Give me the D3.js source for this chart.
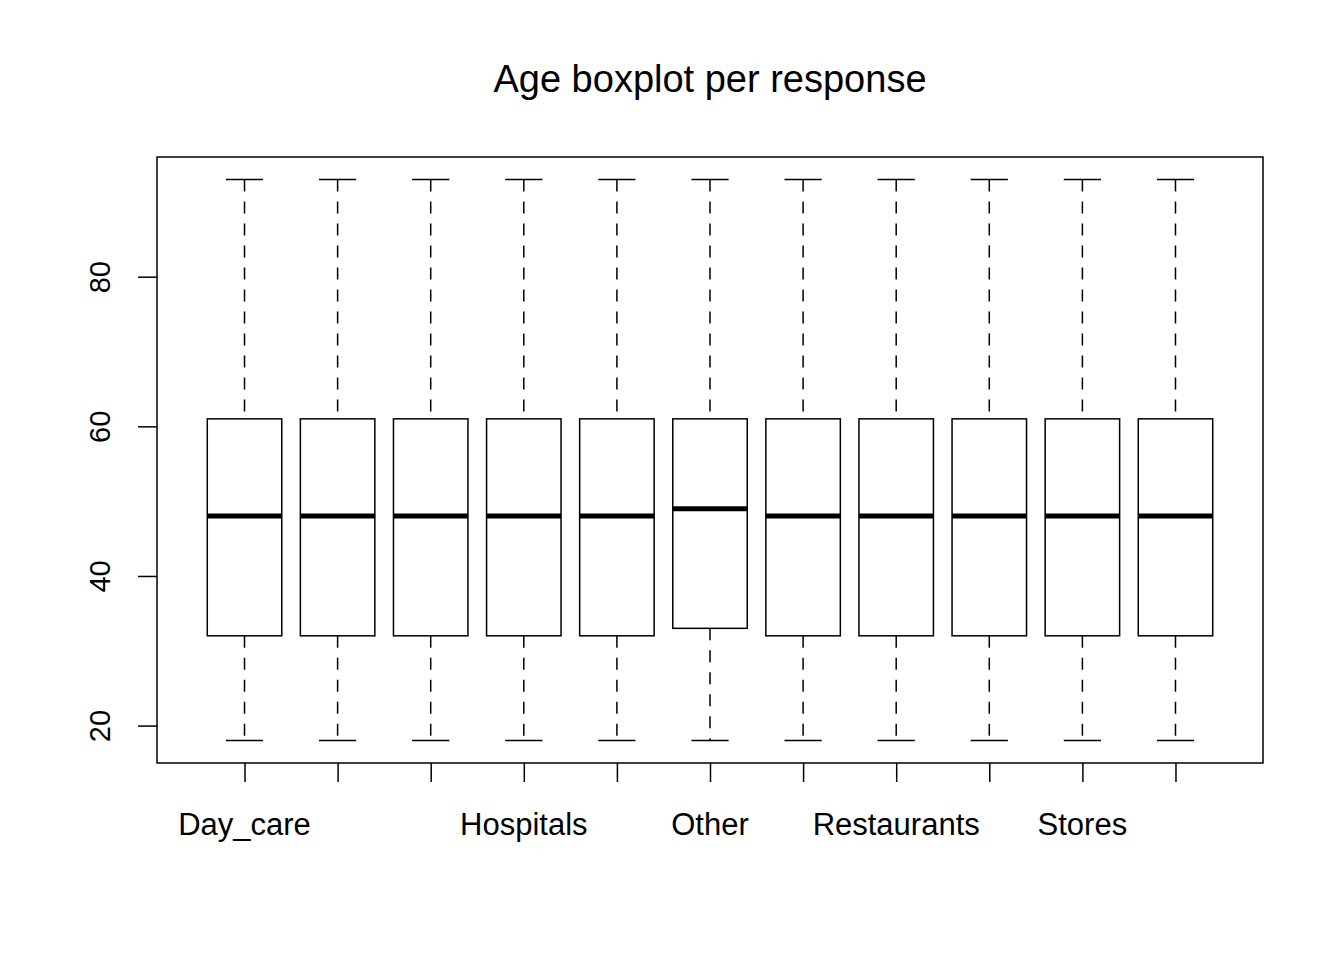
<!DOCTYPE html>
<html><head><meta charset="utf-8">
<script src="https://d3js.org/d3.v7.min.js"></script>
<style>body{margin:0;background:#fff}</style>
</head><body>
<script>
// one box per response
var labels = ["Day_care", "", "", "Hospitals", "", "Other", "", "Restaurants", "", "Stores", ""];
var lowWhisker = [18, 18, 18, 18, 18, 18, 18, 18, 18, 18, 18];
var q1 = [32, 32, 32, 32, 32, 33, 32, 32, 32, 32, 32];
var median = [48, 48, 48, 48, 48, 49, 48, 48, 48, 48, 48];
var q3 = [61, 61, 61, 61, 61, 61, 61, 61, 61, 61, 61];
var highWhisker = [93, 93, 93, 93, 93, 93, 93, 93, 93, 93, 93];
var yTicks = [20, 40, 60, 80];

var W = 1344, H = 960;
var box = {left: 157, right: 1263, top: 157, bottom: 763};
var n = labels.length;

var svg = d3.select("body").append("svg").attr("width", W).attr("height", H)
  .style("font-family", "Liberation Sans, Arial, sans-serif");

var x = d3.scaleLinear().domain([0.06, n + 0.94]).range([box.left, box.right]);
var y = d3.scaleLinear().domain([15, 96]).range([box.bottom, box.top]);

svg.append("text").attr("x", 710).attr("y", 92).attr("text-anchor", "middle")
  .attr("font-size", 38).text("Age boxplot per response");

var data = labels.map(function(l, i) {
  return {i: i + 1, label: l, lo: lowWhisker[i], q1: q1[i], med: median[i], q3: q3[i], hi: highWhisker[i]};
});

var bw = 0.8 * (x(2) - x(1));
var g = svg.selectAll("g.bx").data(data).enter().append("g").attr("class", "bx");

g.append("line").attr("x1", d => x(d.i)).attr("x2", d => x(d.i))
  .attr("y1", d => y(d.hi)).attr("y2", d => y(d.q3))
  .attr("stroke", "#000").attr("stroke-width", 1.5).attr("stroke-dasharray", "12,10");
g.append("line").attr("x1", d => x(d.i)).attr("x2", d => x(d.i))
  .attr("y1", d => y(d.q1)).attr("y2", d => y(d.lo))
  .attr("stroke", "#000").attr("stroke-width", 1.5).attr("stroke-dasharray", "12,10");
["hi", "lo"].forEach(function(k) {
  g.append("line").attr("x1", d => x(d.i) - bw / 4).attr("x2", d => x(d.i) + bw / 4)
    .attr("y1", d => y(d[k])).attr("y2", d => y(d[k]))
    .attr("stroke", "#000").attr("stroke-width", 1.5);
});
g.append("rect").attr("x", d => x(d.i) - bw / 2).attr("width", bw)
  .attr("y", d => y(d.q3)).attr("height", d => y(d.q1) - y(d.q3))
  .attr("fill", "#fff").attr("stroke", "#000").attr("stroke-width", 1.5);
g.append("line").attr("x1", d => x(d.i) - bw / 2).attr("x2", d => x(d.i) + bw / 2)
  .attr("y1", d => y(d.med)).attr("y2", d => y(d.med))
  .attr("stroke", "#000").attr("stroke-width", 5);

svg.append("rect").attr("x", box.left).attr("y", box.top)
  .attr("width", box.right - box.left).attr("height", box.bottom - box.top)
  .attr("fill", "none").attr("stroke", "#000").attr("stroke-width", 1.5);

// x axis
var xAxis = d3.axisBottom(x).tickValues(d3.range(1, n + 1)).tickSize(19).tickFormat("");
var xa = svg.append("g").attr("transform", "translate(0," + box.bottom + ")").call(xAxis);
xa.select(".domain").remove();
xa.selectAll("line").attr("stroke-width", 1.5);
svg.selectAll("text.xl").data(data).enter().append("text").attr("class", "xl")
  .attr("x", d => x(d.i)).attr("y", 835).attr("text-anchor", "middle")
  .attr("font-size", 31).text(d => d.label);

// y axis
var yAxis = d3.axisLeft(y).tickValues(yTicks).tickSize(19);
var ya = svg.append("g").attr("transform", "translate(" + box.left + ",0)").call(yAxis);
ya.select(".domain").remove();
ya.selectAll("line").attr("stroke-width", 1.5);
ya.selectAll("text").attr("font-size", 29).attr("font-family", "Liberation Sans, Arial, sans-serif")
  .attr("text-anchor", "middle").attr("dy", 0).attr("x", 0).attr("y", 0)
  .attr("transform", "translate(-47,0) rotate(-90)");
</script>
</body></html>
